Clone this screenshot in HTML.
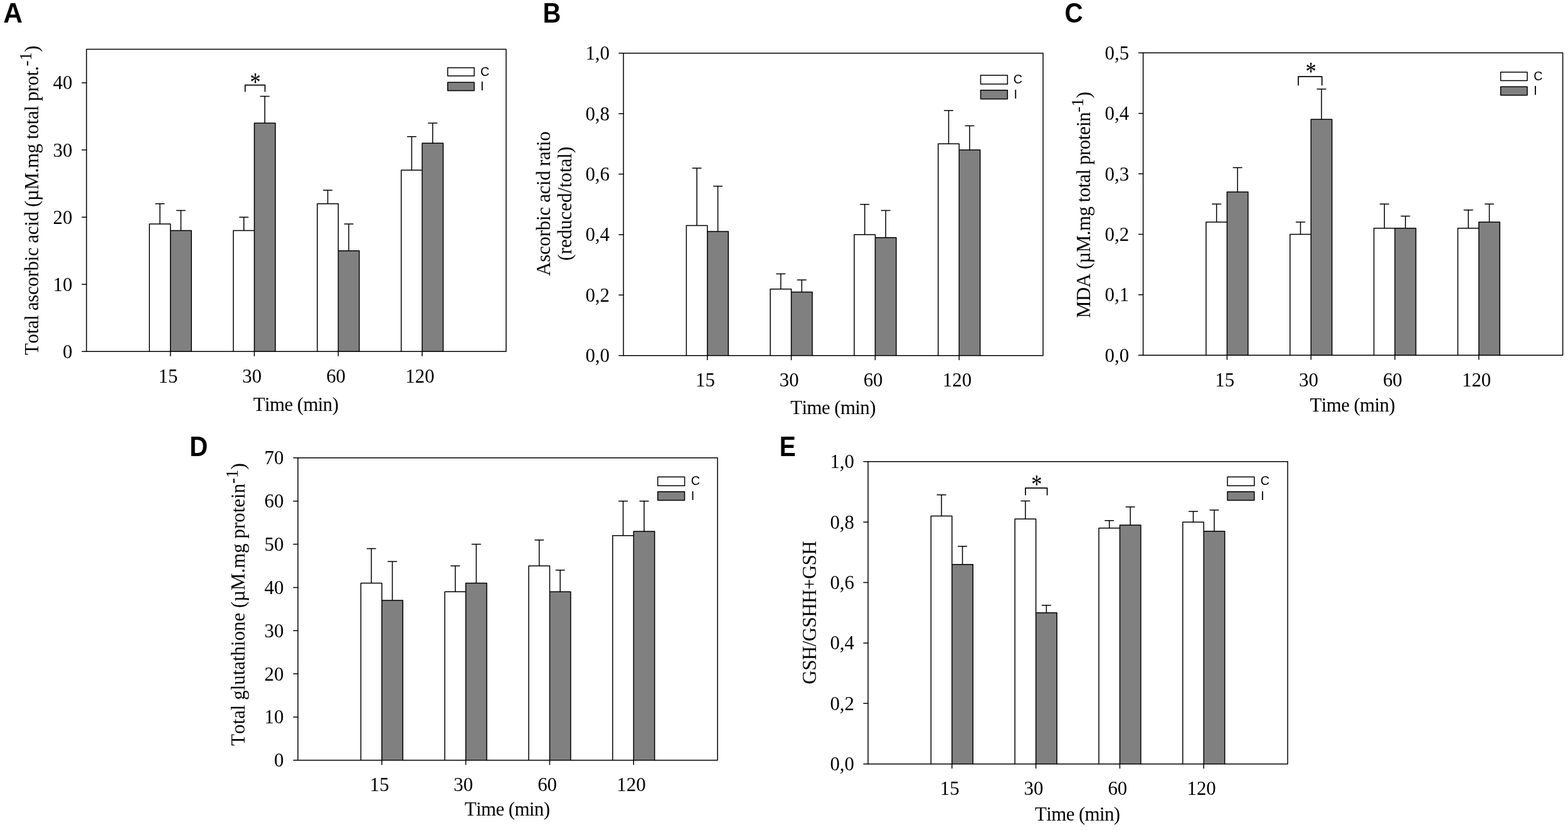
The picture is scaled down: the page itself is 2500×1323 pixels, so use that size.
<!DOCTYPE html>
<html lang="en"><head><meta charset="utf-8"><title>Figure</title>
<style>html,body{margin:0;padding:0;background:#fff}body{width:2500px;height:1323px;overflow:hidden}svg{display:block}text{fill:#000;font-kerning:none}.s{font-family:"Liberation Serif","DejaVu Serif",serif;font-size:30.9px}.t{font-family:"Liberation Serif","DejaVu Serif",serif;font-size:30.9px}.l{font-family:"Liberation Sans","DejaVu Sans",sans-serif;font-size:19.8px}.p{font-family:"Liberation Sans","DejaVu Sans",sans-serif;font-size:44.3px;font-weight:700}.a{font-family:"Liberation Serif","DejaVu Serif",serif;font-size:43px}.ln{stroke:#000;stroke-width:1.5;fill:none;stroke-linecap:round;stroke-linejoin:round}.bw{fill:#fff;stroke:#000;stroke-width:1.5;stroke-linejoin:round}.bg{fill:#808080;stroke:#000;stroke-width:1.5;stroke-linejoin:round}.r{stroke-linejoin:round;stroke-linecap:round}.fw{fill:#fff}.fg{fill:#808080}</style></head><body>
<svg xmlns="http://www.w3.org/2000/svg" width="2500" height="1323" viewBox="0 0 2500 1323">
<rect x="0" y="0" width="2500" height="1323" fill="#fff"/>
<g>
<text class="p" transform="translate(5.3 36.1) scale(0.963 1)">A</text>
<path class="ln" d="M254.98 356.88V324.75M248.08 324.75H261.88"/>
<path class="fw" d="M238.26 560.35V356.88H271.71V560.35Z"/>
<path class="ln" d="M288.44 367.59V335.46M281.54 335.46H295.34"/>
<path class="fg" d="M271.71 560.35V367.59H305.16V560.35Z"/>
<path class="ln" d="M238.26 560.35V356.88H271.71M271.71 367.59H305.16V560.35M271.71 560.35V356.88"/>
<path class="ln" d="M388.79 367.59V346.17M381.89 346.17H395.69"/>
<path class="fw" d="M372.07 560.35V367.59H405.52V560.35Z"/>
<path class="ln" d="M422.25 196.25V153.41M415.35 153.41H429.15"/>
<path class="fg" d="M405.52 560.35V196.25H438.97V560.35Z"/>
<path class="ln" d="M372.07 560.35V367.59H405.52M405.52 196.25H438.97V560.35M405.52 560.35V196.25"/>
<path class="ln" d="M522.6 324.75V303.34M515.7 303.34H529.5"/>
<path class="fw" d="M505.88 560.35V324.75H539.33V560.35Z"/>
<path class="ln" d="M556.06 399.72V356.88M549.16 356.88H562.96"/>
<path class="fg" d="M539.33 560.35V399.72H572.78V560.35Z"/>
<path class="ln" d="M505.88 560.35V324.75H539.33M539.33 399.72H572.78V560.35M539.33 560.35V324.75"/>
<path class="ln" d="M656.41 271.21V217.67M649.51 217.67H663.31"/>
<path class="fw" d="M639.69 560.35V271.21H673.14V560.35Z"/>
<path class="ln" d="M689.87 228.37V196.25M682.97 196.25H696.77"/>
<path class="fg" d="M673.14 560.35V228.37H706.59V560.35Z"/>
<path class="ln" d="M639.69 560.35V271.21H673.14M673.14 228.37H706.59V560.35M673.14 560.35V228.37"/>
<rect class="ln" x="137.9" y="78.45" width="669.05" height="481.9"/>
<path class="ln" d="M130.8 560.35H137.9M130.8 453.26H137.9M130.8 346.17H137.9M130.8 239.08H137.9M130.8 131.99H137.9M271.71 560.35V567.25M405.52 560.35V567.25M539.33 560.35V567.25M673.14 560.35V567.25"/>
<text class="s" text-anchor="end" x="115.5" y="570.85">0</text>
<text class="s" text-anchor="end" x="115.5" y="463.76">10</text>
<text class="s" text-anchor="end" x="115.5" y="356.67">20</text>
<text class="s" text-anchor="end" x="115.5" y="249.58">30</text>
<text class="s" text-anchor="end" x="115.5" y="142.49">40</text>
<text class="s" text-anchor="middle" x="268.01" y="609.75">15</text>
<text class="s" text-anchor="middle" x="401.82" y="609.75">30</text>
<text class="s" text-anchor="middle" x="535.63" y="609.75">60</text>
<text class="s" text-anchor="middle" x="669.44" y="609.75">120</text>
<text class="t" text-anchor="middle" letter-spacing="-0.6" x="471.6" y="655.45">Time (min)</text>
<text class="t" letter-spacing="-0.337" transform="translate(61.2 566) rotate(-90)">Total ascorbic acid (µM.mg total prot.<tspan dy="-11" font-size="27" letter-spacing="0">-1</tspan><tspan dy="11" letter-spacing="0">)</tspan></text>
<rect class="bw r" x="713.8" y="107.9" width="42.3" height="13.1"/>
<rect class="bg r" x="713.8" y="131.3" width="42.3" height="13.1"/>
<text class="l" x="766.1" y="120.5">C</text>
<text class="l" x="766.1" y="144">I</text>
<path class="ln r" style="stroke-width:1.7" d="M390.8 145.7V135.6H422.5V145.7"/>
<text class="a" text-anchor="middle" transform="translate(407.2 145.3) scale(0.8 1)">*</text>
</g>
<g>
<text class="p" transform="translate(865.6 36.1) scale(0.9 1)">B</text>
<path class="ln" d="M1111.08 359.48V267.92M1104.18 267.92H1117.98"/>
<path class="fw" d="M1094.36 566.7V359.48H1127.81V566.7Z"/>
<path class="ln" d="M1144.54 369.12V296.84M1137.64 296.84H1151.44"/>
<path class="fg" d="M1127.81 566.7V369.12H1161.26V566.7Z"/>
<path class="ln" d="M1094.36 566.7V359.48H1127.81M1127.81 369.12H1161.26V566.7M1127.81 566.7V359.48"/>
<path class="ln" d="M1244.89 460.68V436.59M1237.99 436.59H1251.79"/>
<path class="fw" d="M1228.17 566.7V460.68H1261.62V566.7Z"/>
<path class="ln" d="M1278.35 465.5V446.22M1271.45 446.22H1285.25"/>
<path class="fg" d="M1261.62 566.7V465.5H1295.07V566.7Z"/>
<path class="ln" d="M1228.17 566.7V460.68H1261.62M1261.62 465.5H1295.07V566.7M1261.62 566.7V460.68"/>
<path class="ln" d="M1378.7 373.94V325.75M1371.8 325.75H1385.6"/>
<path class="fw" d="M1361.98 566.7V373.94H1395.43V566.7Z"/>
<path class="ln" d="M1412.16 378.76V335.39M1405.26 335.39H1419.06"/>
<path class="fg" d="M1395.43 566.7V378.76H1428.88V566.7Z"/>
<path class="ln" d="M1361.98 566.7V373.94H1395.43M1395.43 378.76H1428.88V566.7M1395.43 566.7V373.94"/>
<path class="ln" d="M1512.51 229.37V176.36M1505.61 176.36H1519.41"/>
<path class="fw" d="M1495.79 566.7V229.37H1529.24V566.7Z"/>
<path class="ln" d="M1545.97 239.01V200.46M1539.07 200.46H1552.87"/>
<path class="fg" d="M1529.24 566.7V239.01H1562.69V566.7Z"/>
<path class="ln" d="M1495.79 566.7V229.37H1529.24M1529.24 239.01H1562.69V566.7M1529.24 566.7V229.37"/>
<rect class="ln" x="994" y="84.8" width="669.05" height="481.9"/>
<path class="ln" d="M986.9 566.7H994M986.9 470.32H994M986.9 373.94H994M986.9 277.56H994M986.9 181.18H994M986.9 84.8H994M1127.81 566.7V573.6M1261.62 566.7V573.6M1395.43 566.7V573.6M1529.24 566.7V573.6"/>
<text class="s" text-anchor="end" x="972" y="577.2">0,0</text>
<text class="s" text-anchor="end" x="972" y="480.82">0,2</text>
<text class="s" text-anchor="end" x="972" y="384.44">0,4</text>
<text class="s" text-anchor="end" x="972" y="288.06">0,6</text>
<text class="s" text-anchor="end" x="972" y="191.68">0,8</text>
<text class="s" text-anchor="end" x="972" y="95.3">1,0</text>
<text class="s" text-anchor="middle" x="1124.51" y="616.1">15</text>
<text class="s" text-anchor="middle" x="1258.32" y="616.1">30</text>
<text class="s" text-anchor="middle" x="1392.13" y="616.1">60</text>
<text class="s" text-anchor="middle" x="1525.94" y="616.1">120</text>
<text class="t" text-anchor="middle" letter-spacing="-0.6" x="1328.1" y="659.8">Time (min)</text>
<text class="t" text-anchor="middle" letter-spacing="-0.25" transform="translate(876.7 324.7) rotate(-90)">Ascorbic acid ratio</text>
<text class="t" text-anchor="middle" letter-spacing="0" transform="translate(911.4 324.7) rotate(-90)">(reduced/total)</text>
<rect class="bw r" x="1563.5" y="120" width="42.85" height="14"/>
<rect class="bg r" x="1563.5" y="143.85" width="42.85" height="14"/>
<text class="l" x="1615.8" y="133.4">C</text>
<text class="l" x="1616.5" y="156.7">I</text>
</g>
<g>
<text class="p" transform="translate(1697.4 36.1) scale(0.913 1)">C</text>
<path class="ln" d="M1939.68 354.11V325.2M1932.78 325.2H1946.58"/>
<path class="fw" d="M1922.96 566.15V354.11H1956.41V566.15Z"/>
<path class="ln" d="M1973.14 305.92V267.37M1966.24 267.37H1980.04"/>
<path class="fg" d="M1956.41 566.15V305.92H1989.86V566.15Z"/>
<path class="ln" d="M1922.96 566.15V354.11H1956.41M1956.41 305.92H1989.86V566.15M1956.41 566.15V305.92"/>
<path class="ln" d="M2073.49 373.39V354.11M2066.59 354.11H2080.39"/>
<path class="fw" d="M2056.77 566.15V373.39H2090.22V566.15Z"/>
<path class="ln" d="M2106.95 190.27V142.08M2100.05 142.08H2113.85"/>
<path class="fg" d="M2090.22 566.15V190.27H2123.67V566.15Z"/>
<path class="ln" d="M2056.77 566.15V373.39H2090.22M2090.22 190.27H2123.67V566.15M2090.22 566.15V190.27"/>
<path class="ln" d="M2207.3 363.75V325.2M2200.4 325.2H2214.2"/>
<path class="fw" d="M2190.58 566.15V363.75H2224.03V566.15Z"/>
<path class="ln" d="M2240.76 363.75V344.48M2233.86 344.48H2247.66"/>
<path class="fg" d="M2224.03 566.15V363.75H2257.48V566.15Z"/>
<path class="ln" d="M2190.58 566.15V363.75H2224.03M2224.03 363.75H2257.48V566.15M2224.03 566.15V363.75"/>
<path class="ln" d="M2341.11 363.75V334.84M2334.21 334.84H2348.01"/>
<path class="fw" d="M2324.39 566.15V363.75H2357.84V566.15Z"/>
<path class="ln" d="M2374.57 354.11V325.2M2367.67 325.2H2381.47"/>
<path class="fg" d="M2357.84 566.15V354.11H2391.29V566.15Z"/>
<path class="ln" d="M2324.39 566.15V363.75H2357.84M2357.84 354.11H2391.29V566.15M2357.84 566.15V354.11"/>
<rect class="ln" x="1822.6" y="84.25" width="669.05" height="481.9"/>
<path class="ln" d="M1815.5 566.15H1822.6M1815.5 469.77H1822.6M1815.5 373.39H1822.6M1815.5 277.01H1822.6M1815.5 180.63H1822.6M1815.5 84.25H1822.6M1956.41 566.15V573.05M2090.22 566.15V573.05M2224.03 566.15V573.05M2357.84 566.15V573.05"/>
<text class="s" text-anchor="end" x="1800.2" y="576.65">0,0</text>
<text class="s" text-anchor="end" x="1800.2" y="480.27">0,1</text>
<text class="s" text-anchor="end" x="1800.2" y="383.89">0,2</text>
<text class="s" text-anchor="end" x="1800.2" y="287.51">0,3</text>
<text class="s" text-anchor="end" x="1800.2" y="191.13">0,4</text>
<text class="s" text-anchor="end" x="1800.2" y="94.75">0,5</text>
<text class="s" text-anchor="middle" x="1952.71" y="615.55">15</text>
<text class="s" text-anchor="middle" x="2086.52" y="615.55">30</text>
<text class="s" text-anchor="middle" x="2220.33" y="615.55">60</text>
<text class="s" text-anchor="middle" x="2354.14" y="615.55">120</text>
<text class="t" text-anchor="middle" letter-spacing="-0.6" x="2156.3" y="655.85">Time (min)</text>
<text class="t" letter-spacing="-0.515" transform="translate(1738.1 507) rotate(-90)">MDA (µM.mg total protein<tspan dy="-11" font-size="27" letter-spacing="0">-1</tspan><tspan dy="11" letter-spacing="0">)</tspan></text>
<rect class="bw r" x="2392.65" y="115" width="42.4" height="13.5"/>
<rect class="bg r" x="2392.65" y="138.3" width="42.4" height="13.5"/>
<text class="l" x="2445.3" y="127.9">C</text>
<text class="l" x="2445.3" y="151.4">I</text>
<path class="ln r" style="stroke-width:1.7" d="M2070 135.6V122.05H2107.7V135.6"/>
<text class="a" text-anchor="middle" transform="translate(2090.1 128.45) scale(0.8 1)">*</text>
</g>
<g>
<text class="p" transform="translate(302.3 727) scale(0.911 1)">D</text>
<path class="ln" d="M592.08 929.49V874.42M585.18 874.42H598.98"/>
<path class="fw" d="M575.36 1211.75V929.49H608.81V1211.75Z"/>
<path class="ln" d="M625.54 957.03V895.07M618.64 895.07H632.44"/>
<path class="fg" d="M608.81 1211.75V957.03H642.26V1211.75Z"/>
<path class="ln" d="M575.36 1211.75V929.49H608.81M608.81 957.03H642.26V1211.75M608.81 1211.75V929.49"/>
<path class="ln" d="M725.89 943.26V901.96M718.99 901.96H732.79"/>
<path class="fw" d="M709.17 1211.75V943.26H742.62V1211.75Z"/>
<path class="ln" d="M759.35 929.49V867.54M752.45 867.54H766.25"/>
<path class="fg" d="M742.62 1211.75V929.49H776.07V1211.75Z"/>
<path class="ln" d="M709.17 1211.75V943.26H742.62M742.62 929.49H776.07V1211.75M742.62 1211.75V929.49"/>
<path class="ln" d="M859.7 901.96V860.65M852.8 860.65H866.6"/>
<path class="fw" d="M842.98 1211.75V901.96H876.43V1211.75Z"/>
<path class="ln" d="M893.16 943.26V908.84M886.26 908.84H900.06"/>
<path class="fg" d="M876.43 1211.75V943.26H909.88V1211.75Z"/>
<path class="ln" d="M842.98 1211.75V901.96H876.43M876.43 943.26H909.88V1211.75M876.43 1211.75V901.96"/>
<path class="ln" d="M993.51 853.77V798.69M986.61 798.69H1000.41"/>
<path class="fw" d="M976.79 1211.75V853.77H1010.24V1211.75Z"/>
<path class="ln" d="M1026.97 846.88V798.69M1020.07 798.69H1033.87"/>
<path class="fg" d="M1010.24 1211.75V846.88H1043.69V1211.75Z"/>
<path class="ln" d="M976.79 1211.75V853.77H1010.24M1010.24 846.88H1043.69V1211.75M1010.24 1211.75V846.88"/>
<rect class="ln" x="475" y="729.85" width="669.05" height="481.9"/>
<path class="ln" d="M467.9 1211.75H475M467.9 1142.91H475M467.9 1074.06H475M467.9 1005.22H475M467.9 936.38H475M467.9 867.54H475M467.9 798.69H475M467.9 729.85H475M608.81 1211.75V1218.65M742.62 1211.75V1218.65M876.43 1211.75V1218.65M1010.24 1211.75V1218.65"/>
<text class="s" text-anchor="end" x="452.5" y="1222.25">0</text>
<text class="s" text-anchor="end" x="452.5" y="1153.41">10</text>
<text class="s" text-anchor="end" x="452.5" y="1084.56">20</text>
<text class="s" text-anchor="end" x="452.5" y="1015.72">30</text>
<text class="s" text-anchor="end" x="452.5" y="946.88">40</text>
<text class="s" text-anchor="end" x="452.5" y="878.04">50</text>
<text class="s" text-anchor="end" x="452.5" y="809.19">60</text>
<text class="s" text-anchor="end" x="452.5" y="740.35">70</text>
<text class="s" text-anchor="middle" x="605.01" y="1261.15">15</text>
<text class="s" text-anchor="middle" x="738.82" y="1261.15">30</text>
<text class="s" text-anchor="middle" x="872.63" y="1261.15">60</text>
<text class="s" text-anchor="middle" x="1006.44" y="1261.15">120</text>
<text class="t" text-anchor="middle" letter-spacing="-0.6" x="808.6" y="1299.65">Time (min)</text>
<text class="t" letter-spacing="0.01" transform="translate(390.1 1188.8) rotate(-90)">Total glutathione (µM.mg protein<tspan dy="-11" font-size="27" letter-spacing="0">-1</tspan><tspan dy="11" letter-spacing="0">)</tspan></text>
<rect class="bw r" x="1048.7" y="760.25" width="42.85" height="13.9"/>
<rect class="bg r" x="1048.7" y="783.65" width="42.85" height="13.9"/>
<text class="l" x="1101.8" y="773.1">C</text>
<text class="l" x="1101.8" y="797.2">I</text>
</g>
<g>
<text class="p" transform="translate(1242.7 727) scale(0.883 1)">E</text>
<path class="ln" d="M1501.08 822.54V788.81M1494.18 788.81H1507.98"/>
<path class="fw" d="M1484.36 1217.7V822.54H1517.81V1217.7Z"/>
<path class="ln" d="M1534.54 899.65V870.73M1527.64 870.73H1541.44"/>
<path class="fg" d="M1517.81 1217.7V899.65H1551.26V1217.7Z"/>
<path class="ln" d="M1484.36 1217.7V822.54H1517.81M1517.81 899.65H1551.26V1217.7M1517.81 1217.7V822.54"/>
<path class="ln" d="M1634.89 827.36V798.45M1627.99 798.45H1641.79"/>
<path class="fw" d="M1618.17 1217.7V827.36H1651.62V1217.7Z"/>
<path class="ln" d="M1668.35 976.75V964.7M1661.45 964.7H1675.25"/>
<path class="fg" d="M1651.62 1217.7V976.75H1685.07V1217.7Z"/>
<path class="ln" d="M1618.17 1217.7V827.36H1651.62M1651.62 976.75H1685.07V1217.7M1651.62 1217.7V827.36"/>
<path class="ln" d="M1768.7 841.82V829.77M1761.8 829.77H1775.6"/>
<path class="fw" d="M1751.98 1217.7V841.82H1785.43V1217.7Z"/>
<path class="ln" d="M1802.16 837V808.08M1795.26 808.08H1809.06"/>
<path class="fg" d="M1785.43 1217.7V837H1818.88V1217.7Z"/>
<path class="ln" d="M1751.98 1217.7V841.82H1785.43M1785.43 837H1818.88V1217.7M1785.43 1217.7V837"/>
<path class="ln" d="M1902.51 832.18V815.31M1895.61 815.31H1909.41"/>
<path class="fw" d="M1885.79 1217.7V832.18H1919.24V1217.7Z"/>
<path class="ln" d="M1935.97 846.64V812.9M1929.07 812.9H1942.87"/>
<path class="fg" d="M1919.24 1217.7V846.64H1952.69V1217.7Z"/>
<path class="ln" d="M1885.79 1217.7V832.18H1919.24M1919.24 846.64H1952.69V1217.7M1919.24 1217.7V832.18"/>
<rect class="ln" x="1384" y="735.8" width="669.05" height="481.9"/>
<path class="ln" d="M1376.9 1217.7H1384M1376.9 1121.32H1384M1376.9 1024.94H1384M1376.9 928.56H1384M1376.9 832.18H1384M1376.9 735.8H1384M1517.81 1217.7V1224.6M1651.62 1217.7V1224.6M1785.43 1217.7V1224.6M1919.24 1217.7V1224.6"/>
<text class="s" text-anchor="end" x="1362" y="1228.2">0,0</text>
<text class="s" text-anchor="end" x="1362" y="1131.82">0,2</text>
<text class="s" text-anchor="end" x="1362" y="1035.44">0,4</text>
<text class="s" text-anchor="end" x="1362" y="939.06">0,6</text>
<text class="s" text-anchor="end" x="1362" y="842.68">0,8</text>
<text class="s" text-anchor="end" x="1362" y="746.3">1,0</text>
<text class="s" text-anchor="middle" x="1514.21" y="1267.1">15</text>
<text class="s" text-anchor="middle" x="1648.02" y="1267.1">30</text>
<text class="s" text-anchor="middle" x="1781.83" y="1267.1">60</text>
<text class="s" text-anchor="middle" x="1915.64" y="1267.1">120</text>
<text class="t" text-anchor="middle" letter-spacing="-0.6" x="1717.8" y="1307.8">Time (min)</text>
<text class="t" letter-spacing="-0.475" transform="translate(1301 1090.7) rotate(-90)">GSH/GSHH+GSH</text>
<rect class="bw r" x="1957" y="760.25" width="42.8" height="13.9"/>
<rect class="bg r" x="1957" y="783.65" width="42.8" height="13.9"/>
<text class="l" x="2009.8" y="773.1">C</text>
<text class="l" x="2010.2" y="797.2">I</text>
<path class="ln r" style="stroke-width:1.7" d="M1635 788.8V777.85H1669.6V788.8"/>
<text class="a" text-anchor="middle" transform="translate(1652.8 785.6) scale(0.8 1)">*</text>
</g>
</svg></body></html>
